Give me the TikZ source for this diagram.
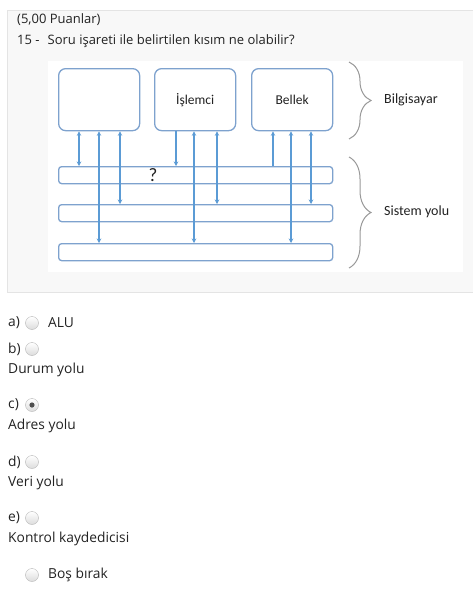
\documentclass[tikz,border=0pt]{standalone}
\usepackage{fontspec}
\setmainfont{Open Sans}
\newfontfamily\diagfont{Carlito}
\usetikzlibrary{arrows.meta,positioning,decorations.pathreplacing}
\definecolor{boxline}{HTML}{7EA2CE}
\definecolor{arrowblue}{HTML}{5B9BD5}
\definecolor{bracegrey}{HTML}{999999}
\definecolor{panelgrey}{HTML}{F8F8F8}
\definecolor{panelline}{HTML}{E4E4E4}
\definecolor{txt}{HTML}{222222}
\definecolor{radioline}{HTML}{B5B5B5}
\definecolor{radiofill}{HTML}{DCDCDC}
\tikzset{unitbox/.style={draw=boxline,line width=1.3pt,rounded corners=7pt,minimum width=81pt,minimum height=62pt,inner sep=0,anchor=north west,fill=white,text=txt,font=\diagfont\fontsize{13.5}{15}\selectfont},
    busbar/.style={draw=boxline,line width=1.3pt,rounded corners=3pt,minimum width=274pt,minimum height=17pt,inner sep=0,anchor=north west},
    link/.style={draw=arrowblue,line width=1.4pt,>={Stealth[length=4.5pt,width=4.5pt]}},
    accolade/.style={decorate,decoration={brace,amplitude=22pt},draw=bracegrey,line width=1pt},
    bracetext/.style={anchor=west,inner sep=0,text=txt,font=\diagfont\fontsize{14}{16}\selectfont},
    qtext/.style={anchor=west,inner sep=0,text=txt,font=\fontsize{13}{15}\selectfont},
    atext/.style={anchor=west,inner sep=0,text=txt,font=\fontsize{13.8}{16}\selectfont},
    radio/.style={circle,draw=radioline,minimum size=13pt,inner sep=0,top color=white,bottom color=radiofill}
}

\begin{document}
\begin{tikzpicture}[x=1pt,y=-1pt]
\useasboundingbox (0,0) rectangle (472,597);

% question panel
\fill[panelgrey,draw=panelline] (7,10) rectangle (473,292);
\node (points) at (17,20) [qtext] {(5,00 Puanlar)};
\node (question) at (17,41) [qtext] {15 -\hspace{8pt}Soru işareti ile belirtilen kısım ne olabilir?};
\fill[white] (48,61) rectangle (463,272);

% units and buses
\node (lbox) at (58,68) [unitbox] {};
\node (cpu) at (154,68) [unitbox] {İşlemci};
\node (mem) at (251,68) [unitbox] {Bellek};

\node (busA) at (58,166) [busbar] {};
\node (busB) at (58,204) [busbar] {};
\node (busC) at (58,243) [busbar] {};

\node (qmark) at (153,175) [font=\diagfont\fontsize{19}{19}\selectfont,text=txt] {?};

% connections
\draw [link,<->] (lbox.south -| 79,0) -- (busA.north -| 79,0);
\draw [link,<->] (lbox.south -| 99,0) -- (busC.north -| 99,0);
\draw [link,<->] (lbox.south -| 120,0) -- (busB.north -| 120,0);

\draw [link,->] (cpu.south -| 176,0) -- (busA.north -| 176,0);
\draw [link,<->] (cpu.south -| 194,0) -- (busC.north -| 194,0);
\draw [link,<->] (cpu.south -| 217,0) -- (busB.north -| 217,0);

\draw [link,<-] (mem.south -| 273,0) -- (busA.north -| 273,0);
\draw [link,<->] (mem.south -| 291,0) -- (busC.north -| 291,0);
\draw [link,<->] (mem.south -| 311,0) -- (busB.north -| 311,0);

% braces
\draw [accolade] (349,62) -- (349,139);
\node (computer) at (384,100) [bracetext] {Bilgisayar};
\draw [accolade] (349,157) -- (349,268);
\node (sysbus) at (384,212) [bracetext] {Sistem yolu};

% answers
\node (la) at (8,323) [atext] {a)};
\node (ra) at (32,323) [radio] {};
\node (ta) at (48,323) [atext] {ALU};

\node (lb) at (8,349) [atext] {b)};
\node (rb) at (32,349) [radio] {};
\node (tb) at (8,370) [atext] {Durum yolu};

\node (lc) at (8,405) [atext] {c)};
\node (rc) at (32,405) [radio] {};
\fill[txt!80] (rc.center) circle (2.6pt);
\node (tc) at (8,426) [atext] {Adres yolu};

\node (ld) at (8,462) [atext] {d)};
\node (rd) at (32,462) [radio] {};
\node (td) at (8,483) [atext] {Veri yolu};

\node (le) at (8,518) [atext] {e)};
\node (re) at (32,518) [radio] {};
\node (te) at (8,539) [atext] {Kontrol kaydedicisi};

\node (rblank) at (32,575) [radio] {};
\node (tblank) at (48,575) [atext] {Boş bırak};

\end{tikzpicture}
\end{document}
